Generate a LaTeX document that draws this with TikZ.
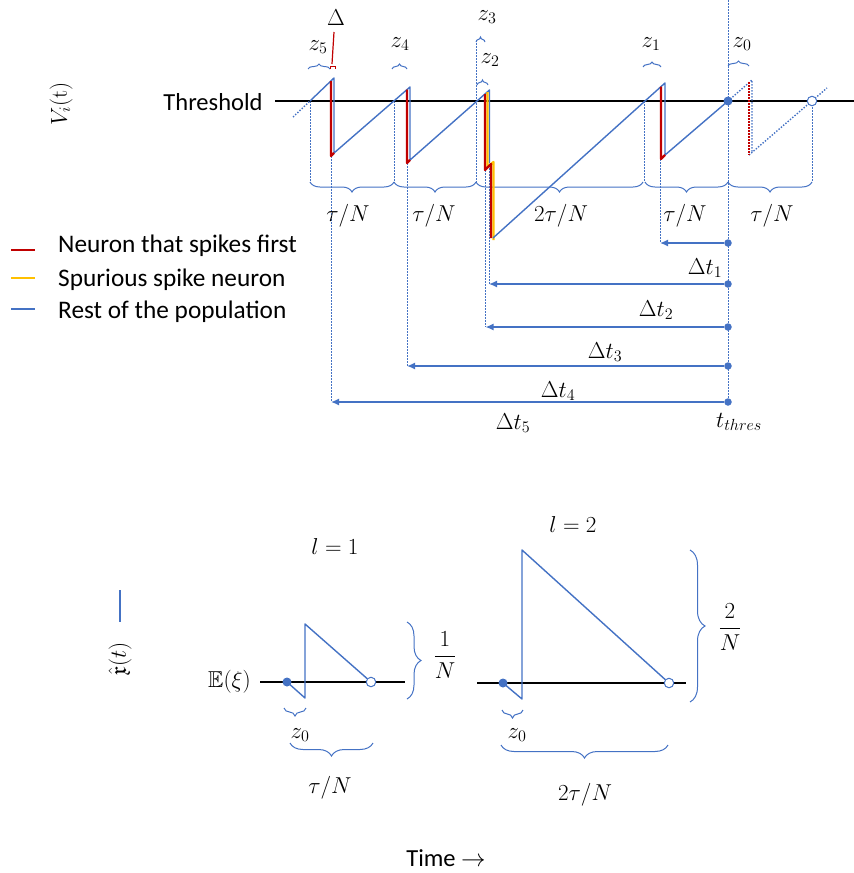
\RequirePackage{fix-cm}
\documentclass[tikz,border=0pt]{standalone}
\usepackage{amsmath}
\usepackage{amssymb}
\usepackage{fontspec}
\newfontfamily\calfont{Carlito}
\usetikzlibrary{decorations.pathreplacing,arrows.meta}
\definecolor{oblue}{HTML}{4472C4}
\definecolor{ored}{HTML}{C00000}
\definecolor{oyel}{HTML}{FFC000}
\begin{document}
\begin{tikzpicture}[x=1pt,y=-1pt,
  thr/.style={black,line width=1.8pt},
  wave/.style={oblue,line width=1.4pt,line join=round},
  wavedot/.style={oblue,line width=1.4pt,dash pattern=on 1.4pt off 1.6pt},
  guide/.style={oblue,line width=0.8pt,dash pattern=on 1.5pt off 1.5pt},
  spk/.style={ored,line width=2.3pt,line join=round},
  spkdot/.style={ored,line width=2pt,dash pattern=on 1.5pt off 1.5pt},
  spur/.style={oyel,line width=2.3pt,line join=round},
  brc/.style={oblue,line width=1pt,decorate,decoration={brace,amplitude=#1}},
  brc/.default=6pt,
  arr/.style={oblue,line width=1.4pt,-{Latex[length=8pt,width=7pt]}},
  adot/.style={circle,fill=oblue,inner sep=0pt,minimum size=7.5pt},
  bdot/.style={circle,fill=oblue,inner sep=0pt,minimum size=9pt},
  odot/.style={circle,draw=oblue,fill=white,line width=1pt,inner sep=0pt,minimum size=9.5pt},
  mlab/.style={font=\fontsize{23}{27}\selectfont,inner sep=0pt},
  tlab/.style={font=\calfont\fontsize{24.5}{29}\selectfont,inner sep=0pt},
  leglab/.style={font=\calfont\fontsize{25.3}{30}\selectfont,inner sep=0pt}]
\useasboundingbox (0,0) rectangle (854,873);

%---------------- top: threshold and labels
\coordinate (thA) at (275,101); \coordinate (thB) at (854,101);
\node[tlab,anchor=base] (thlab) at (213,110) {Threshold};
\node[mlab,rotate=90] (vlab) at (61,104) {$V_i(\mathrm{t})$};

%---------------- key points
\coordinate (s5) at (293,117);
\coordinate (c5) at (310,101);
\coordinate (p5) at (334,78);
\coordinate (b5) at (334,153);
\coordinate (c4) at (394,101);
\coordinate (p4) at (410,87);
\coordinate (b4) at (410,160);
\coordinate (c3) at (476,101);
\coordinate (p3) at (489.5,90);
\coordinate (b3) at (489.5,163);
\coordinate (s3) at (493,238);
\coordinate (c1) at (644,101);
\coordinate (p1) at (665,83);
\coordinate (b1) at (665,155);
\coordinate (p0) at (752,80);
\coordinate (b0) at (752,152);
\coordinate (r0) at (749,155);
\coordinate (e0) at (827,88);

%---------------- guides (dotted verticals)
\coordinate (g5a) at (331,156); \coordinate (g5b) at (331,402);
\coordinate (g4a) at (407,163); \coordinate (g4b) at (407,366);
\coordinate (g3t) at (476,40);
\coordinate (g2a) at (485.5,170); \coordinate (g2b) at (485.5,327);
\coordinate (g1a) at (489,165); \coordinate (g1b) at (489,284);
\coordinate (g0a) at (660,159); \coordinate (g0b) at (660,243);
\coordinate (gtt) at (728,0); \coordinate (gtb) at (728,402);
\draw[guide] (c5) -- (310,182);
\draw[guide] (c4) -- (394,182);
\draw[guide] (g3t) -- (476,182);
\draw[guide] (c1) -- (644,182);
\draw[guide] (812,101) -- (812,182);
\draw[guide] (g5a) -- (g5b);
\draw[guide] (g4a) -- (g4b);
\draw[guide] (g2a) -- (g2b);
\draw[guide] (g1a) -- (g1b);
\draw[guide] (g0a) -- (g0b);
\draw[guide] (gtt) -- (gtb);

\draw[thr] (thA) -- (thB);

%---------------- top braces (tip up)
\draw[brc=5pt] (308,69) -- (330,69);
\draw[brc=5pt] (392,69) -- (407,69);
\draw[brc=5pt] (476,42) -- (485,42);
\draw[brc=5pt] (477,85) -- (488,85);
\draw[brc=5pt] (643,67) -- (661,67);
\draw[brc=5pt] (728,66) -- (749,66);
\draw[ored,line width=1pt] (330,69) -- (330,66) -- (335,66) -- (335,69);
\draw[ored,line width=1.2pt] (334,32) -- (332,64);
\node[mlab] (lz5) at (318,47) {$z_5$};
\node[mlab] (ldel) at (336,18) {$\Delta$};
\node[mlab] (lz4) at (400,44) {$z_4$};
\node[mlab] (lz3) at (487,17) {$z_3$};
\node[mlab] (lz2) at (490,60) {$z_2$};
\node[mlab] (lz1) at (651,44) {$z_1$};
\node[mlab] (lz0) at (742,44) {$z_0$};

%---------------- bottom braces (tip down)
\draw[brc=10pt] (394,182) -- (310,182);
\draw[brc=10pt] (476,182) -- (394,182);
\draw[brc=10pt] (643,182) -- (476,182);
\draw[brc=10pt] (728,182) -- (645,182);
\draw[brc=10pt] (812,182) -- (728,182);
\node[mlab] (lt1) at (348,216) {$\tau/N$};
\node[mlab] (lt2) at (434,216) {$\tau/N$};
\node[mlab] (lt3) at (561,216) {$2\tau/N$};
\node[mlab] (lt4) at (685,216) {$\tau/N$};
\node[mlab] (lt5) at (772,216) {$\tau/N$};

%---------------- membrane potential
\draw[wavedot] (s5) -- (c5);
\draw[wave] (c5) -- (p5) -- (b5) -- (p4) -- (b4) -- (p3) -- (b3);
\draw[spur] (487.5,92) -- (487.5,167) -- (493.5,162) -- (493.5,240);
\draw[spk] (485,94) -- (485,170) -- (491,164) -- (491,238);
\draw[wave] (s3) -- (p1) -- (b1) -- (728,101);
\draw[wavedot] (728,101) -- (p0) -- (b0);
\draw[wavedot] (r0) -- (e0);
\draw[spk] (331,81) -- (331,156) -- (b5);
\draw[spk] (407,89.5) -- (407,163) -- (b4);
\draw[spk] (661,86.5) -- (661,159) -- (b1);
\draw[spkdot] (749,82) -- (r0);
\node[bdot] (tthr) at (728,101) {};
\node[odot] (oc) at (812,101) {};

%---------------- delta t arrows
\node[adot] (d1) at (728,243) {}; \coordinate (e1) at (660,243);
\node[adot] (d2) at (728,284) {}; \coordinate (e2) at (489,284);
\node[adot] (d3) at (728,327) {}; \coordinate (e3) at (485.5,327);
\node[adot] (d4) at (728,366) {}; \coordinate (e4) at (407,366);
\node[adot] (d5) at (728,402) {}; \coordinate (e5) at (331,402);
\draw[arr] (d1) -- (e1);
\draw[arr] (d2) -- (e2);
\draw[arr] (d3) -- (e3);
\draw[arr] (d4) -- (e4);
\draw[arr] (d5) -- (e5);
\node[mlab] (ld1) at (705,268) {$\Delta t_1$};
\node[mlab] (ld2) at (656,310) {$\Delta t_2$};
\node[mlab] (ld3) at (605,352) {$\Delta t_3$};
\node[mlab] (ld4) at (558,391) {$\Delta t_4$};
\node[mlab] (ld5) at (513,423) {$\Delta t_5$};
\node[mlab] (ltt) at (739,422) {$t_{thres}$};

%---------------- legend
\draw[ored,line width=1.5pt] (11,250) -- (35,250);
\draw[oyel,line width=1.5pt] (11,278) -- (35,278);
\draw[oblue,line width=1.5pt] (11,309) -- (35,309);
\node[leglab,anchor=base west] (lg1) at (58,252) {Neuron that spikes first};
\node[leglab,anchor=base west] (lg2) at (58,286) {Spurious spike neuron};
\node[leglab,anchor=base west] (lg3) at (58,318) {Rest of the population};

%---------------- bottom: x-hat
\node[mlab,rotate=90] (xlab) at (120,659) {$\hat{\mathfrak{x}}(t)$};
\draw[oblue,line width=1.4pt] (120,590) -- (120,622);

% panel l=1
\node[mlab] (l1) at (335,547) {$l=1$};
\node[mlab,anchor=east] (ex) at (251,682) {$\mathbb{E}(\xi)$};
\draw[thr] (260,682) -- (405,682);
\node[bdot] (a0) at (287,682) {};
\node[odot] (a3) at (371,682) {};
\draw[wave] (a0.center) -- (305,698) -- (305,624) -- (a3);
\draw[brc=8pt] (306,708) -- (284,708);
\node[mlab] (az0) at (300,735) {$z_0$};
\draw[brc=13pt] (373,743) -- (290,743);
\node[mlab] (atn) at (330,788) {$\tau/N$};
\draw[brc=14pt] (407,622) -- (407,699);
\node[mlab] (a1n) at (445,655) {$\dfrac{1}{N}$};

% panel l=2
\node[mlab] (l2) at (573,525) {$l=2$};
\draw[thr] (477,683) -- (686,683);
\node[bdot] (q0) at (503,683) {};
\node[odot] (q3) at (669,683) {};
\draw[wave] (q0.center) -- (522,699) -- (522,550) -- (q3);
\draw[brc=8pt] (523,710) -- (502,710);
\node[mlab] (qz0) at (517,735) {$z_0$};
\draw[brc=13pt] (668,745) -- (501,745);
\node[mlab] (qtn) at (585,795) {$2\tau/N$};
\draw[brc=15pt] (690,550) -- (690,702);
\node[mlab] (q2n) at (730,627) {$\dfrac{2}{N}$};

%---------------- time
\node[tlab,anchor=base] (time) at (446,866) {Time $\rightarrow$};
\end{tikzpicture}
\end{document}
